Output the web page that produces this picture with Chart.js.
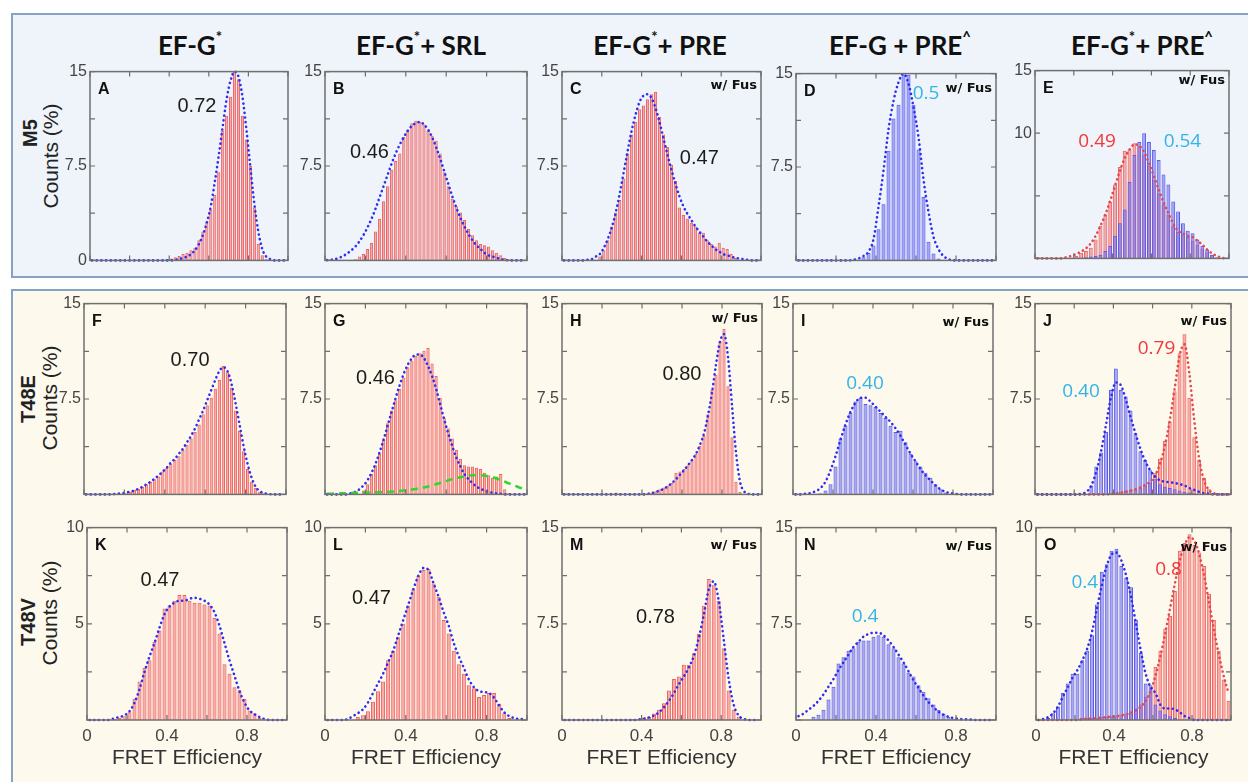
<!DOCTYPE html>
<html>
<head>
<meta charset="utf-8">
<script src="https://cdn.jsdelivr.net/npm/chart.js@4.4.1/dist/chart.umd.min.js"></script>
<style>
  body { margin: 0; width: 1248px; height: 782px; position: relative; overflow: hidden; background: #fff;
         font-family: "Liberation Sans", Arial, sans-serif; }
  .box { position: absolute; box-sizing: border-box; }
  #topBox { left: 11px; top: 13px; width: 1260px; height: 265px; background: #eef4fa; border: 2px solid #86a3c4; }
  #botBox { left: 11px; top: 289px; width: 1260px; height: 520px; background: #fdf9ed; border: 2px solid #86a3c4; }
  .title { position: absolute; transform: translate(-50%, -50%); white-space: nowrap;
           font-family: Lato, sans-serif; font-weight: 700; font-size: 26px; color: #111; }
  .title sup { font-size: 15px; position: relative; top: -3px; }
  .rot { position: absolute; transform: translate(-50%, -50%) rotate(-90deg); white-space: nowrap; color: #222; }
  .rowname { font-weight: 700; font-size: 20px; }
  .counts { font-size: 21px; }
  canvas { position: absolute; }
</style>
</head>
<body>
<div class="box" id="topBox"></div>
<div class="box" id="botBox"></div>

<div class="title" style="left:190px;top:45px">EF-G<sup>*</sup></div>
<div class="title" style="left:421px;top:45px">EF-G<sup>*</sup>+ SRL</div>
<div class="title" style="left:660px;top:45px">EF-G<sup>*</sup>+ PRE</div>
<div class="title" style="left:900px;top:45px">EF-G + PRE<sup>^</sup></div>
<div class="title" style="left:1142px;top:45px">EF-G<sup>*</sup>+ PRE<sup>^</sup></div>

<div class="rot rowname" style="left:30px;top:133px">M5</div>
<div class="rot counts" style="left:51px;top:156px">Counts (%)</div>
<div class="rot rowname" style="left:28px;top:399px">T48E</div>
<div class="rot counts" style="left:50px;top:398px">Counts (%)</div>
<div class="rot rowname" style="left:28px;top:622px">T48V</div>
<div class="rot counts" style="left:50px;top:613px">Counts (%)</div>

<script>
// bin centres of the histograms
const BINS_50 = [
  0.01, 0.03, 0.05, 0.07, 0.09, 0.11, 0.13, 0.15, 0.17, 0.19,
  0.21, 0.23, 0.25, 0.27, 0.29, 0.31, 0.33, 0.35, 0.37, 0.39,
  0.41, 0.43, 0.45, 0.47, 0.49, 0.51, 0.53, 0.55, 0.57, 0.59,
  0.61, 0.63, 0.65, 0.67, 0.69, 0.71, 0.73, 0.75, 0.77, 0.79,
  0.81, 0.83, 0.85, 0.87, 0.89, 0.91, 0.93, 0.95, 0.97, 0.99
];
const BINS_40 = [
  0.0125, 0.0375, 0.0625, 0.0875, 0.1125, 0.1375, 0.1625, 0.1875, 0.2125, 0.2375,
  0.2625, 0.2875, 0.3125, 0.3375, 0.3625, 0.3875, 0.4125, 0.4375, 0.4625, 0.4875,
  0.5125, 0.5375, 0.5625, 0.5875, 0.6125, 0.6375, 0.6625, 0.6875, 0.7125, 0.7375,
  0.7625, 0.7875, 0.8125, 0.8375, 0.8625, 0.8875, 0.9125, 0.9375, 0.9625, 0.9875
];

const X_TICKS = [0, 0.2, 0.4, 0.6, 0.8, 1];
const X_LABELS = [0, 0.4, 0.8];
const Y_TICKS_15 = [0, 3.75, 7.5, 11.25, 15];
const Y_TICKS_15_BY5 = [0, 5, 10, 15];
const Y_TICKS_10 = [0, 2.5, 5, 7.5, 10];

// ---- M5 row ----
const A_BARS = [
  0, 0, 0, 0, 0, 0, 0, 0, 0, 0,
  0, 0, 0, 0, 0, 0, 0, 0, 0.05, 0.1,
  0.15, 0.25, 0.35, 0.5, 0.6, 0.8, 1.0, 1.6, 2.3, 3.1,
  4.0, 5.2, 7.0, 10.3, 11.5, 13.0, 15.0, 14.4, 11.5, 9.6,
  7.5, 4.2, 1.3, 0.4, 0.1, 0, 0, 0, 0, 0
];
const A_FIT = [
  0, 0, 0, 0, 0, 0, 0, 0, 0, 0,
  0, 0, 0, 0, 0, 0, 0, 0, 0, 0,
  0, 0.05, 0.1, 0.2, 0.3, 0.5, 0.8, 1.3, 2.0, 3.0,
  4.3, 6.2, 8.3, 10.6, 12.8, 14.3, 15.0, 14.6, 13.0, 10.4,
  7.4, 4.5, 2.3, 0.9, 0.3, 0.1, 0, 0, 0, 0
];
const B_BARS = [
  0, 0, 0, 0, 0, 0, 0, 0.1, 0.3, 0.5,
  0.9, 1.4, 2.3, 3.3, 4.7, 5.9, 7.2, 7.9, 8.5, 9.8,
  10.4, 10.9, 11.1, 11.0, 10.8, 10.3, 9.9, 9.5, 8.5, 7.0,
  5.9, 4.9, 4.3, 3.8, 3.2, 2.5, 2.0, 1.6, 1.3, 1.2,
  1.1, 0.8, 0.6, 0.4, 0.2, 0.1, 0, 0, 0, 0
];
const B_FIT = [
  0.02, 0.05, 0.1, 0.2, 0.35, 0.55, 0.8, 1.1, 1.5, 2.0,
  2.6, 3.3, 4.1, 5.0, 5.9, 6.8, 7.7, 8.5, 9.2, 9.8,
  10.3, 10.7, 10.9, 11.0, 10.8, 10.4, 9.8, 9.0, 8.1, 7.1,
  6.1, 5.1, 4.2, 3.4, 2.7, 2.1, 1.6, 1.2, 0.9, 0.6,
  0.4, 0.3, 0.2, 0.1, 0.05, 0, 0, 0, 0, 0
];
const C_BARS = [
  0, 0, 0, 0, 0, 0, 0, 0, 0, 0.3,
  0.8, 1.6, 2.7, 3.8, 4.8, 6.5, 8.5, 10.0, 11.0, 12.0,
  12.3, 12.8, 13.2, 13.4, 11.4, 10.0, 9.0, 7.6, 6.3, 4.2,
  3.6, 3.3, 3.0, 2.7, 2.2, 2.2, 1.6, 1.3, 1.1, 1.4,
  1.0, 0.9, 0.5, 0.2, 0, 0, 0, 0, 0, 0
];
const C_FIT = [
  0, 0, 0, 0, 0, 0, 0.05, 0.1, 0.3, 0.5,
  1.0, 1.7, 2.6, 3.8, 5.3, 7.0, 8.7, 10.3, 11.6, 12.6,
  13.1, 13.2, 12.9, 12.1, 11.0, 9.7, 8.4, 7.2, 6.1, 5.1,
  4.3, 3.7, 3.2, 2.7, 2.3, 1.9, 1.5, 1.2, 0.9, 0.7,
  0.5, 0.4, 0.3, 0.2, 0.15, 0.1, 0.05, 0, 0, 0
];
const D_BLUE = [
  0, 0, 0, 0, 0, 0, 0, 0, 0, 0,
  0, 0, 0, 0.25, 0.6, 1.2, 2.5, 4.5, 8.8, 11.4,
  12.5, 14.9, 14.9, 12.5, 8.9, 5.1, 1.5, 0.55, 0.15, 0,
  0, 0, 0, 0, 0, 0, 0, 0, 0, 0
];
const D_FIT = [
  0, 0, 0, 0, 0, 0, 0, 0, 0, 0,
  0, 0.05, 0.15, 0.35, 0.7, 1.7, 4.3, 7.2, 10.5, 12.8,
  14.3, 15.0, 14.2, 12.3, 9.9, 6.5, 3.9, 1.9, 0.9, 0.35,
  0.1, 0, 0, 0, 0, 0, 0, 0, 0, 0
];
const E_RED = [
  0, 0, 0, 0, 0, 0, 0, 0, 0.2, 0.45,
  0.6, 0.85, 1.5, 2.6, 3.5, 4.5, 5.9, 7.3, 8.6, 8.7,
  9.2, 9.0, 8.3, 7.4, 6.3, 5.2, 4.3, 3.5, 2.6, 2.1,
  1.9, 1.7, 1.4, 1.1, 0.8, 0.5, 0.3, 0.1, 0, 0
];
const E_BLUE = [
  0, 0, 0, 0, 0, 0, 0, 0, 0.05, 0.05,
  0.1, 0.15, 0.2, 0.3, 0.6, 1.0, 1.8, 2.8, 3.9, 6.1,
  8.25, 9.3, 10.0, 9.3, 8.65, 7.85, 6.7, 5.9, 4.55, 3.75,
  2.8, 2.2, 2.0, 1.5, 1.0, 0.7, 0.3, 0.05, 0, 0
];
const E_RED_FIT = [
  0, 0, 0, 0, 0, 0, 0.1, 0.2, 0.35, 0.55,
  0.8, 1.2, 1.8, 2.6, 3.5, 4.6, 5.8, 7.0, 8.0, 8.7,
  9.1, 9.0, 8.5, 7.6, 6.6, 5.5, 4.5, 3.6, 2.8, 2.2,
  2.0, 1.8, 1.7, 1.4, 1.1, 0.7, 0.4, 0.2, 0.05, 0
];

// ---- T48E row ----
const F_BARS = [
  0, 0, 0, 0, 0, 0, 0, 0, 0, 0.05,
  0.1, 0.2, 0.35, 0.45, 0.6, 0.8, 1.0, 1.2, 1.4, 1.8,
  2.1, 2.4, 2.7, 3.0, 3.5, 3.9, 4.4, 4.9, 5.5, 6.3,
  7.0, 7.6, 8.3, 9.0, 10.1, 9.6, 8.4, 6.6, 5.0, 3.4,
  2.0, 1.0, 0.5, 0.2, 0.1, 0, 0, 0, 0, 0
];
const F_FIT = [
  0, 0, 0, 0, 0, 0, 0, 0.03, 0.06, 0.1,
  0.15, 0.22, 0.3, 0.45, 0.6, 0.8, 1.0, 1.25, 1.5, 1.8,
  2.1, 2.5, 2.8, 3.2, 3.6, 4.1, 4.6, 5.2, 5.9, 6.6,
  7.4, 8.2, 9.0, 9.7, 10.0, 9.7, 8.7, 7.2, 5.5, 3.8,
  2.4, 1.3, 0.6, 0.25, 0.1, 0.05, 0, 0, 0, 0
];
const G_BARS = [
  0, 0, 0, 0, 0, 0, 0, 0, 0, 0.3,
  0.8, 1.6, 2.3, 3.2, 4.3, 5.6, 6.6, 7.4, 8.3, 9.2,
  10.0, 10.5, 10.9, 11.1, 11.3, 11.5, 10.3, 9.3, 7.6, 6.0,
  5.2, 4.4, 3.5, 2.8, 2.3, 2.2, 2.2, 2.1, 2.0, 1.7,
  1.5, 1.3, 1.4, 1.6, 0.4, 0.1, 0, 0, 0, 0
];
const G_FIT = [
  0, 0, 0, 0, 0, 0, 0.1, 0.2, 0.4, 0.7,
  1.1, 1.7, 2.4, 3.3, 4.3, 5.4, 6.5, 7.6, 8.6, 9.5,
  10.2, 10.7, 11.0, 11.0, 10.7, 10.1, 9.3, 8.3, 7.1, 5.9,
  4.8, 3.8, 2.9, 2.2, 1.6, 1.2, 0.9, 0.6, 0.45, 0.3,
  0.2, 0.12, 0.08, 0.05, 0, 0, 0, 0, 0, 0
];
const G_HIGH_FRET = [
  0.05, 0.06, 0.07, 0.08, 0.09, 0.1, 0.11, 0.12, 0.13, 0.14,
  0.15, 0.16, 0.17, 0.18, 0.19, 0.2, 0.22, 0.24, 0.27, 0.3,
  0.34, 0.38, 0.43, 0.49, 0.55, 0.62, 0.7, 0.8, 0.9, 1.0,
  1.1, 1.2, 1.28, 1.35, 1.42, 1.47, 1.5, 1.52, 1.5, 1.47,
  1.42, 1.34, 1.25, 1.13, 1.0, 0.87, 0.75, 0.62, 0.5, 0.4
];
const H_BARS = [
  0, 0, 0, 0, 0, 0, 0, 0, 0, 0,
  0, 0, 0, 0.15, 0, 0, 0, 0, 0.05, 0.05,
  0.1, 0.1, 0.15, 0.25, 0.4, 0.55, 0.7, 0.9, 1.7, 1.8,
  2.0, 2.3, 2.7, 3.2, 3.8, 4.6, 6.3, 8.2, 9.4, 12.0,
  13.0, 8.5, 4.5, 1.0, 0.2, 0, 0, 0, 0, 0
];
const H_FIT = [
  0, 0, 0, 0, 0, 0, 0, 0, 0, 0,
  0, 0, 0, 0, 0, 0, 0, 0, 0, 0,
  0, 0.05, 0.1, 0.2, 0.3, 0.45, 0.65, 0.9, 1.2, 1.55,
  1.9, 2.3, 2.7, 3.2, 3.9, 4.8, 6.2, 8.0, 10.2, 12.0,
  12.6, 10.8, 7.0, 3.3, 1.0, 0.25, 0.05, 0, 0, 0
];
const I_BLUE = [
  0, 0, 0, 0, 0, 0.1, 0.3, 0.8, 2.2, 4.4,
  5.4, 6.4, 7.3, 7.6, 7.1, 7.0, 6.9, 6.4, 6.0, 5.4,
  4.9, 5.0, 4.1, 3.2, 2.6, 2.2, 1.7, 1.3, 0.8, 0.4,
  0.15, 0, 0, 0, 0, 0, 0, 0, 0, 0
];
const I_FIT = [
  0, 0, 0.05, 0.1, 0.25, 0.5, 1.0, 1.9, 3.0, 4.3,
  5.5, 6.5, 7.2, 7.6, 7.6, 7.3, 6.9, 6.5, 6.1, 5.7,
  5.2, 4.6, 3.9, 3.2, 2.6, 2.0, 1.5, 1.1, 0.7, 0.4,
  0.2, 0.1, 0.05, 0, 0, 0, 0, 0, 0, 0
];
const J_BLUE = [
  0, 0, 0, 0, 0, 0, 0, 0, 0, 0,
  0, 0.7, 2.2, 3.3, 4.9, 8.2, 9.9, 8.2, 7.7, 6.6,
  4.8, 3.4, 2.7, 1.9, 1.2, 0.8, 0.6, 0.5, 0.4, 0.3,
  0.2, 0.15, 0.1, 0, 0, 0, 0, 0, 0, 0
];
const J_BLUE_FIT = [
  0, 0, 0, 0, 0, 0, 0, 0, 0, 0.05,
  0.2, 0.7, 1.8, 3.4, 5.5, 7.6, 8.8, 8.6, 7.5, 6.1,
  4.8, 3.6, 2.6, 1.9, 1.4, 1.1, 1.0, 0.95, 0.9, 0.8,
  0.7, 0.5, 0.35, 0.2, 0.1, 0.05, 0, 0, 0, 0
];
const J_RED = [
  0, 0, 0, 0, 0, 0, 0, 0, 0, 0,
  0, 0, 0, 0, 0, 0, 0.1, 0.15, 0.3, 0.35,
  0.4, 0.5, 0.7, 0.9, 1.7, 2.8, 4.2, 5.7, 8.1, 11.1,
  12.6, 7.6, 4.5, 2.7, 1.3, 0.4, 0, 0, 0, 0
];
const J_RED_FIT = [
  0, 0, 0, 0, 0, 0, 0, 0, 0, 0,
  0, 0, 0, 0, 0, 0.05, 0.1, 0.15, 0.2, 0.3,
  0.4, 0.55, 0.75, 1.0, 1.5, 2.4, 3.8, 5.8, 8.3, 10.9,
  11.8, 9.5, 5.8, 2.8, 1.1, 0.35, 0.1, 0, 0, 0
];

// ---- T48V row ----
const K_BARS = [
  0, 0, 0, 0, 0, 0.05, 0.1, 0.2, 0.4, 1.1,
  2.0, 2.7, 3.1, 4.05, 4.65, 5.8, 5.95, 6.2, 6.5, 6.5,
  6.2, 6.1, 6.1, 6.0, 5.95, 5.3, 4.5, 2.9, 2.4, 1.7,
  1.55, 1.1, 0.5, 0.35, 0.1, 0, 0, 0, 0, 0
];
const K_FIT = [
  0, 0, 0, 0, 0, 0.1, 0.15, 0.25, 0.45, 0.9,
  1.6, 2.5, 3.3, 4.0, 4.8, 5.5, 5.9, 6.1, 6.2, 6.2,
  6.3, 6.35, 6.3, 6.2, 6.0, 5.6, 4.9, 4.0, 3.1, 2.3,
  1.5, 0.9, 0.5, 0.3, 0.15, 0.05, 0, 0, 0, 0
];
const L_BARS = [
  0, 0, 0, 0, 0, 0, 0.15, 0.25, 0.45, 0.95,
  1.5, 2.0, 3.1, 3.6, 4.3, 5.0, 5.95, 6.8, 7.5, 7.8,
  7.85, 7.1, 6.4, 5.2, 4.5, 3.6, 2.9, 2.4, 1.8, 1.65,
  1.2, 1.3, 1.4, 1.4, 0.85, 0.35, 0.1, 0, 0, 0
];
const L_FIT = [
  0, 0, 0, 0, 0.05, 0.2, 0.35, 0.55, 0.9, 1.4,
  1.9, 2.4, 3.0, 3.6, 4.4, 5.2, 6.0, 6.8, 7.5, 7.9,
  7.8, 7.1, 6.4, 5.6, 4.9, 4.0, 3.3, 2.7, 2.1, 1.7,
  1.5, 1.45, 1.4, 1.15, 0.75, 0.4, 0.2, 0.1, 0.05, 0.05
];
const M_BARS = [
  0, 0, 0, 0, 0, 0, 0, 0, 0, 0,
  0, 0, 0, 0, 0.05, 0.1, 0.2, 0.25, 0.5, 0.8,
  1.3, 2.3, 3.2, 3.4, 4.3, 4.3, 5.2, 6.7, 8.9, 11.0,
  10.5, 9.3, 5.6, 2.3, 0.8, 0.25, 0, 0, 0, 0
];
const M_FIT = [
  0, 0, 0, 0, 0, 0, 0, 0, 0, 0,
  0, 0, 0, 0, 0, 0.05, 0.1, 0.2, 0.35, 0.6,
  1.0, 1.5, 2.1, 2.8, 3.4, 4.1, 5.0, 6.4, 8.2, 10.2,
  10.8, 9.3, 6.3, 3.2, 1.2, 0.35, 0.1, 0, 0, 0
];
const N_BLUE = [
  0, 0, 0, 0.25, 0.4, 0.8, 1.6, 2.6, 4.4, 4.9,
  5.4, 5.6, 6.1, 6.2, 6.2, 6.5, 6.6, 6.5, 5.9, 5.6,
  4.9, 4.4, 3.7, 3.4, 2.7, 2.2, 1.7, 1.2, 0.8, 0.5,
  0.25, 0.1, 0, 0, 0, 0, 0, 0, 0, 0
];
const N_FIT = [
  0.3, 0.5, 0.8, 1.1, 1.5, 2.0, 2.6, 3.2, 3.9, 4.5,
  5.1, 5.7, 6.1, 6.5, 6.7, 6.8, 6.8, 6.6, 6.2, 5.7,
  5.1, 4.5, 3.8, 3.1, 2.5, 1.9, 1.4, 1.0, 0.65, 0.4,
  0.25, 0.15, 0.1, 0.05, 0.05, 0, 0, 0, 0, 0
];
const O_BLUE = [
  0, 0, 0.1, 0.35, 0.7, 1.4, 1.9, 2.4, 2.4, 3.1,
  3.6, 4.4, 6.0, 7.7, 8.1, 8.8, 8.9, 8.0, 7.4, 6.9,
  5.2, 3.5, 1.9, 1.8, 0.8, 0.5, 0.3, 0.2, 0.1, 0,
  0, 0, 0, 0, 0, 0, 0, 0, 0, 0
];
const O_BLUE_FIT = [
  0, 0.05, 0.15, 0.35, 0.7, 1.2, 1.7, 2.2, 2.6, 3.1,
  3.7, 4.6, 5.8, 7.0, 8.0, 8.6, 8.7, 8.3, 7.5, 6.4,
  5.0, 3.6, 2.4, 1.7, 1.4, 0.8, 0.6, 0.6, 0.55, 0.4,
  0.2, 0.1, 0, 0, 0, 0, 0, 0, 0, 0
];
const O_RED = [
  0, 0, 0, 0, 0, 0, 0, 0, 0, 0.1,
  0.1, 0.1, 0.12, 0.15, 0.15, 0.2, 0.2, 0.25, 0.3, 0.45,
  0.6, 0.8, 1.2, 1.55, 2.75, 3.6, 4.75, 5.4, 6.7, 8.8,
  9.2, 9.65, 9.1, 8.7, 8.0, 6.55, 5.2, 3.6, 2.1, 1.0
];
const O_RED_FIT = [
  0, 0, 0, 0, 0, 0, 0, 0, 0, 0.05,
  0.06, 0.08, 0.1, 0.12, 0.15, 0.18, 0.2, 0.25, 0.3, 0.35,
  0.5, 0.7, 1.0, 1.5, 2.3, 3.3, 4.5, 5.8, 7.1, 8.3,
  9.1, 9.5, 9.3, 8.6, 7.5, 6.1, 4.7, 3.4, 2.3, 1.4
];

const RED_FILL = 'rgba(242, 104, 104, 0.52)';
const RED_LINE = '#ee6262';
const BLUE_FILL = 'rgba(108, 108, 238, 0.58)';
const BLUE_LINE = '#5a5aee';
const FIT_BLUE = '#2e2ef2';
const FIT_RED = '#e64848';
const FIT_GREEN = '#2fd62f';
const CYAN = '#33b4e8';
const RED_TXT = '#f03a3a';
const BLACK_TXT = '#1c1c1c';

function bars(values, bins, fill, line, order) {
  return {
    type: 'bar', data: bins.map((x, i) => ({ x: x, y: values[i] })),
    backgroundColor: fill, borderColor: line, borderWidth: 1,
    barPercentage: 0.8, categoryPercentage: 1, grouped: false, order: order
  };
}
function fit(values, bins, color, order, dashed) {
  return {
    type: 'line', data: bins.map((x, i) => ({ x: x, y: values[i] })),
    borderColor: color, borderWidth: dashed ? 2.5 : 2.6,
    borderDash: dashed ? [7, 5] : [0.1, 4.6], borderCapStyle: dashed ? 'butt' : 'round',
    pointRadius: 0, cubicInterpolationMode: 'monotone', fill: false, clip: 4, order: order
  };
}
const redBars = (v, b) => bars(v, b, RED_FILL, RED_LINE, 3);
const blueBars = (v, b) => bars(v, b, BLUE_FILL, BLUE_LINE, 2);
const blueFit = (v, b) => fit(v, b, FIT_BLUE, 1, false);
const redFit = (v, b) => fit(v, b, FIT_RED, 1, false);

const BLACK_FONT = '20px "Liberation Sans"';
const COLOR_FONT = '19px "Open Sans"';
const note = (text, x, y, color) => ({ text, x, y, color, font: color === BLACK_TXT ? BLACK_FONT : COLOR_FONT });

const PANELS = [
  { letter: 'A', rect: [90, 71, 288, 261], yMax: 15, yTicks: Y_TICKS_15, yLabels: [0, 7.5, 15],
    sets: [redBars(A_BARS, BINS_50), blueFit(A_FIT, BINS_50)], notes: [note('0.72', 0.54, 12.2, BLACK_TXT)] },
  { letter: 'B', rect: [325, 71, 527, 261], yMax: 15, yTicks: Y_TICKS_15, yLabels: [7.5, 15],
    sets: [redBars(B_BARS, BINS_50), blueFit(B_FIT, BINS_50)], notes: [note('0.46', 0.22, 8.6, BLACK_TXT)] },
  { letter: 'C', rect: [562, 71, 761, 261], yMax: 15, yTicks: Y_TICKS_15, yLabels: [7.5, 15], fus: 14,
    sets: [redBars(C_BARS, BINS_50), blueFit(C_FIT, BINS_50)], notes: [note('0.47', 0.69, 8.1, BLACK_TXT)] },
  { letter: 'D', rect: [796, 73, 996, 261], yMax: 15, yTicks: Y_TICKS_15, yLabels: [7.5, 15], fus: 15,
    sets: [blueBars(D_BLUE, BINS_40), blueFit(D_FIT, BINS_40)], notes: [note('0.5', 0.65, 13.4, CYAN)] },
  { letter: 'E', rect: [1035, 70, 1229, 259], yMax: 15, yTicks: Y_TICKS_15_BY5, yLabels: [10, 15], fus: 10,
    sets: [redBars(E_RED, BINS_40), blueBars(E_BLUE, BINS_40), redFit(E_RED_FIT, BINS_40)],
    notes: [note('0.49', 0.32, 9.3, RED_TXT), note('0.54', 0.76, 9.3, CYAN)] },

  { letter: 'F', rect: [84, 303, 286, 495], yMax: 15, yTicks: Y_TICKS_15, yLabels: [7.5, 15],
    sets: [redBars(F_BARS, BINS_50), blueFit(F_FIT, BINS_50)], notes: [note('0.70', 0.525, 10.5, BLACK_TXT)] },
  { letter: 'G', rect: [325, 303, 527, 495], yMax: 15, yTicks: Y_TICKS_15, yLabels: [7.5, 15],
    sets: [redBars(G_BARS, BINS_50), blueFit(G_FIT, BINS_50), fit(G_HIGH_FRET, BINS_50, FIT_GREEN, 0, true)],
    notes: [note('0.46', 0.25, 9.1, BLACK_TXT)] },
  { letter: 'H', rect: [562, 303, 762, 495], yMax: 15, yTicks: Y_TICKS_15, yLabels: [7.5, 15], fus: 15,
    sets: [redBars(H_BARS, BINS_50), blueFit(H_FIT, BINS_50)], notes: [note('0.80', 0.6, 9.4, BLACK_TXT)] },
  { letter: 'I', rect: [793, 303, 993, 495], yMax: 15, yTicks: Y_TICKS_15, yLabels: [7.5, 15], fus: 19,
    sets: [blueBars(I_BLUE, BINS_40), blueFit(I_FIT, BINS_40)], notes: [note('0.40', 0.36, 8.75, CYAN)] },
  { letter: 'J', rect: [1035, 303, 1231, 495], yMax: 15, yTicks: Y_TICKS_15, yLabels: [7.5, 15], fus: 18,
    sets: [redBars(J_RED, BINS_40), blueBars(J_BLUE, BINS_40), blueFit(J_BLUE_FIT, BINS_40), redFit(J_RED_FIT, BINS_40)],
    notes: [note('0.40', 0.235, 8.1, CYAN), note('0.79', 0.62, 11.5, RED_TXT)] },

  { letter: 'K', rect: [87, 527, 287, 720], yMax: 10, yTicks: Y_TICKS_10, yLabels: [5, 10], xLabels: true,
    sets: [redBars(K_BARS, BINS_40), blueFit(K_FIT, BINS_40)], notes: [note('0.47', 0.365, 7.25, BLACK_TXT)] },
  { letter: 'L', rect: [325, 527, 527, 720], yMax: 10, yTicks: Y_TICKS_10, yLabels: [5, 10], xLabels: true,
    sets: [redBars(L_BARS, BINS_40), blueFit(L_FIT, BINS_40)], notes: [note('0.47', 0.23, 6.3, BLACK_TXT)] },
  { letter: 'M', rect: [562, 527, 761, 720], yMax: 15, yTicks: Y_TICKS_15, yLabels: [7.5, 15], xLabels: true, fus: 18,
    sets: [redBars(M_BARS, BINS_40), blueFit(M_FIT, BINS_40)], notes: [note('0.78', 0.47, 8.0, BLACK_TXT)] },
  { letter: 'N', rect: [796, 527, 996, 720], yMax: 15, yTicks: Y_TICKS_15, yLabels: [7.5, 15], xLabels: true, fus: 19,
    sets: [blueBars(N_BLUE, BINS_40), blueFit(N_FIT, BINS_40)], notes: [note('0.4', 0.345, 8.1, CYAN)] },
  { letter: 'O', rect: [1036, 527, 1231, 720], yMax: 10, yTicks: Y_TICKS_10, yLabels: [5, 10], xLabels: true, fus: 20,
    sets: [redBars(O_RED, BINS_40), blueBars(O_BLUE, BINS_40), blueFit(O_BLUE_FIT, BINS_40), redFit(O_RED_FIT, BINS_40)],
    notes: [note('0.4', 0.25, 7.15, CYAN), note('0.8', 0.68, 7.8, RED_TXT)] }
];

Chart.defaults.font.family = '"Liberation Sans", Arial, sans-serif';

// frame with inward ticks, panel letter, "w/ Fus" and peak values
function decoPlugin(p) {
  return {
    id: 'deco',
    afterDatasetsDraw(chart) {
      const { ctx, chartArea: { left, top, right, bottom }, scales: { x, y } } = chart;
      ctx.save();
      ctx.strokeStyle = '#6f6f6f';
      ctx.lineWidth = 1.5;
      ctx.strokeRect(left, top, right - left, bottom - top);
      ctx.lineWidth = 1.2;
      ctx.beginPath();
      X_TICKS.forEach(v => {
        const px = x.getPixelForValue(v);
        ctx.moveTo(px, bottom); ctx.lineTo(px, bottom - 5);
        ctx.moveTo(px, top); ctx.lineTo(px, top + 5);
      });
      p.yTicks.forEach(v => {
        const py = y.getPixelForValue(v);
        ctx.moveTo(left, py); ctx.lineTo(left + 5, py);
        ctx.moveTo(right, py); ctx.lineTo(right - 5, py);
      });
      ctx.stroke();

      ctx.fillStyle = '#111';
      ctx.textBaseline = 'middle';
      ctx.textAlign = 'left';
      ctx.font = 'bold 16px "Liberation Sans"';
      ctx.fillText(p.letter, left + 8, top + 18);
      if (p.fus) {
        ctx.textAlign = 'right';
        ctx.font = 'bold 13px "DejaVu Sans"';
        ctx.fillText('w/ Fus', right - 4, top + p.fus);
      }
      ctx.textAlign = 'center';
      p.notes.forEach(n => {
        ctx.font = n.font;
        ctx.fillStyle = n.color;
        ctx.fillText(n.text, x.getPixelForValue(n.x), y.getPixelForValue(n.y));
      });
      ctx.restore();
    }
  };
}

function makePanel(p) {
  const padL = 44, padT = 12, padR = 6, padB = p.xLabels ? 51 : 12;
  const [x0, y0, x1, y1] = p.rect;
  const w = x1 - x0 + padL + padR, h = y1 - y0 + padT + padB;
  const cv = document.createElement('canvas');
  cv.width = w; cv.height = h;
  cv.style.left = (x0 - padL) + 'px';
  cv.style.top = (y0 - padT) + 'px';
  cv.style.width = w + 'px';
  cv.style.height = h + 'px';
  document.body.appendChild(cv);

  new Chart(cv, {
    type: 'bar',
    data: { datasets: p.sets },
    options: {
      responsive: false,
      animation: false,
      devicePixelRatio: 1,
      layout: { padding: { top: padT, right: padR, left: 0, bottom: 0 } },
      plugins: { legend: { display: false }, tooltip: { enabled: false } },
      scales: {
        x: {
          type: 'linear', min: 0, max: 1, offset: false,
          grid: { display: false, drawTicks: false }, border: { display: false },
          afterBuildTicks: a => { a.ticks = X_TICKS.map(v => ({ value: v })); },
          ticks: {
            display: !!p.xLabels, padding: 6, color: '#444', autoSkip: false, maxRotation: 0,
            font: { size: 17 }, callback: v => X_LABELS.includes(v) ? String(v) : ''
          },
          title: {
            display: !!p.xLabels, text: 'FRET Efficiency', color: '#333',
            font: { size: 21 }, padding: { top: 4, bottom: 0 }
          },
          afterFit: s => { s.height = padB; }
        },
        y: {
          min: 0, max: p.yMax,
          grid: { display: false, drawTicks: false }, border: { display: false },
          afterBuildTicks: a => { a.ticks = p.yTicks.map(v => ({ value: v })); },
          ticks: {
            padding: 3, color: '#444', autoSkip: false, font: { size: 16 },
            callback: v => p.yLabels.includes(v) ? String(v) : ''
          },
          afterFit: s => { s.width = padL; }
        }
      }
    },
    plugins: [decoPlugin(p)]
  });
}

PANELS.forEach(makePanel);
</script>
</body>
</html>
